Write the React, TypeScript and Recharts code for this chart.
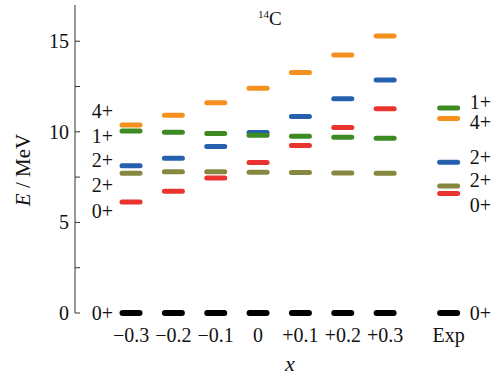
import { ScatterChart, Scatter, XAxis, YAxis } from "recharts";

const categories = ["\u22120.3", "\u22120.2", "\u22120.1", "0", "+0.1", "+0.2", "+0.3", "Exp"];
const positions = [0, 1, 2, 3, 4, 5, 6, 7.5];

// level energies (MeV) per column
const ground0 = [0, 0, 0, 0, 0, 0, 0, 0];
const red0 = [6.13, 6.72, 7.45, 8.3, 9.24, 10.24, 11.27, 6.59];
const olive2 = [7.71, 7.79, 7.79, 7.77, 7.75, 7.73, 7.71, 7.01];
const blue2 = [8.13, 8.54, 9.19, 9.96, 10.85, 11.83, 12.86, 8.32];
const green1 = [10.05, 9.98, 9.91, 9.81, 9.76, 9.7, 9.65, 11.31];
const orange4 = [10.37, 10.92, 11.6, 12.4, 13.28, 14.24, 15.29, 10.74];

// spin labels on both sides
const leftSpins = ["4+", "1+", "2+", "2+", "0+", "0+"];
const leftSpinE = [11.15, 9.78, 8.45, 7.07, 5.62, 0];
const rightSpins = ["1+", "4+", "2+", "2+", "0+", "0+"];
const rightSpinE = [11.65, 10.55, 8.62, 7.35, 5.95, 0];

const yTicks = [0, 2.5, 5, 7.5, 10, 12.5, 15];

const FONT = '"Liberation Serif", "Times New Roman", serif';
const textStyle = { fontFamily: FONT, fontSize: 20 };

const series = [
  { name: "gs", values: ground0, color: "#000000", h: 6 },
  { name: "0+", values: red0, color: "#E8332E", h: 5 },
  { name: "2+a", values: olive2, color: "#878840", h: 5 },
  { name: "2+b", values: blue2, color: "#2460AE", h: 5 },
  { name: "1+", values: green1, color: "#3E8A22", h: 5 },
  { name: "4+", values: orange4, color: "#F5901E", h: 5 },
];

const toPoints = (vals: number[]) => positions.map((x, i) => ({ x, y: vals[i] }));

const levelShape = (color: string, h: number) => (props: any) => {
  const { cx, cy } = props;
  return <rect x={cx - 11.5} y={cy - h / 2} width={23} height={h} rx={h / 2} fill={color} />;
};

const labelShape = (anchor: "start" | "end") => (props: any) => {
  const { cx, cy, payload } = props;
  return (
    <text x={cx} y={cy} textAnchor={anchor} dominantBaseline="central" style={textStyle} fill="#111">
      {payload.label}
    </text>
  );
};

const YTick = (props: any) => {
  const { x, y, payload } = props;
  const v = payload.value;
  return (
    <g>
      <line x1={x} x2={x + 5} y1={y} y2={y} stroke="#333" strokeWidth={1} />
      {Number.isInteger(v) && (
        <text x={x - 6} y={y} textAnchor="end" dominantBaseline="central" style={textStyle} fill="#111">
          {v}
        </text>
      )}
    </g>
  );
};

const XTick = (props: any) => {
  const { x, y, payload } = props;
  const idx = positions.indexOf(payload.value);
  return (
    <text x={x} y={y + 22} textAnchor="middle" dominantBaseline="central" style={textStyle} fill="#111">
      {categories[idx]}
    </text>
  );
};

export default function App() {
  const leftData = leftSpins.map((label, i) => ({ x: -0.425, y: leftSpinE[i], label }));
  const rightData = rightSpins.map((label, i) => ({ x: 8.0, y: rightSpinE[i], label }));
  return (
    <div style={{ position: "absolute", left: 0, top: 0, width: 495, height: 376, background: "#fff" }}>
      <ScatterChart width={495} height={376} margin={{ top: 5, right: 4, bottom: 23, left: 0 }}>
        <XAxis
          type="number"
          dataKey="x"
          domain={[-1.323, 8.5]}
          ticks={positions}
          tick={<XTick />}
          axisLine={false}
          tickLine={false}
          tickSize={0}
          tickMargin={0}
          height={40}
        />
        <YAxis
          type="number"
          dataKey="y"
          domain={[0, 17]}
          ticks={yTicks}
          tick={<YTick />}
          tickLine={false}
          tickSize={0}
          tickMargin={0}
          axisLine={{ stroke: "#333", strokeWidth: 1 }}
          width={75}
        />
        {series.map((s) => (
          <Scatter
            key={s.name}
            data={toPoints(s.values)}
            shape={levelShape(s.color, s.h)}
            isAnimationActive={false}
          />
        ))}
        <Scatter data={leftData} shape={labelShape("end")} isAnimationActive={false} />
        <Scatter data={rightData} shape={labelShape("start")} isAnimationActive={false} />
      </ScatterChart>
      <div style={{ position: "absolute", left: 258, top: 9, fontFamily: FONT, fontSize: 19, color: "#111", lineHeight: 1 }}>
        <sup style={{ fontSize: 11 }}>14</sup>C
      </div>
      <div
        style={{
          position: "absolute",
          left: 23,
          top: 170,
          transform: "translate(-50%, -50%) rotate(-90deg)",
          fontFamily: FONT,
          fontSize: 21,
          color: "#111",
          whiteSpace: "nowrap",
          lineHeight: 1,
        }}
      >
        <i>E</i> / MeV
      </div>
      <div
        style={{
          position: "absolute",
          left: 290,
          top: 364,
          transform: "translate(-50%, -50%)",
          fontFamily: FONT,
          fontSize: 22,
          fontStyle: "italic",
          color: "#111",
          lineHeight: 1,
        }}
      >
        x
      </div>
    </div>
  );
}
